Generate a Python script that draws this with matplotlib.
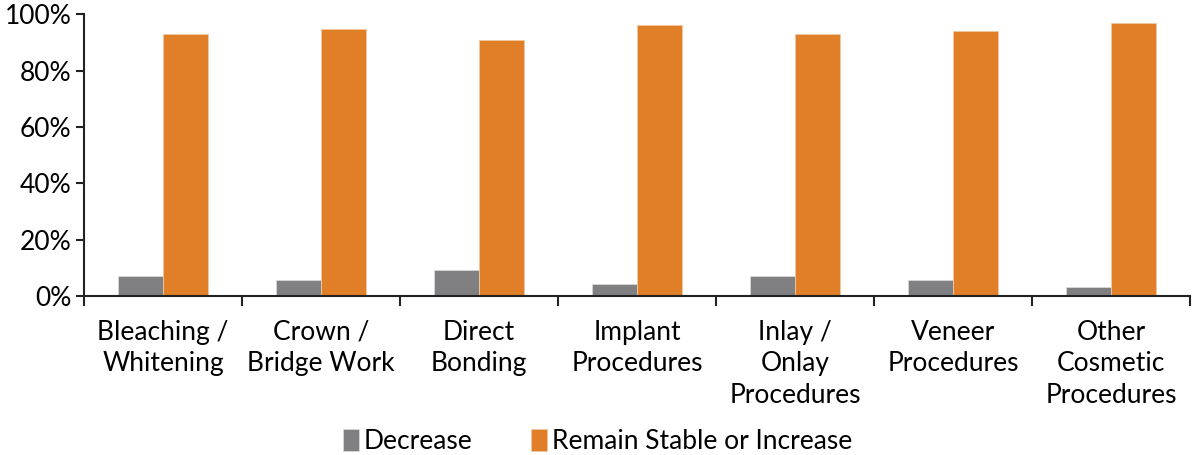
import numpy as np
import matplotlib.pyplot as plt
from matplotlib.ticker import PercentFormatter

plt.rcParams['font.family'] = ['Lato', 'DejaVu Sans']

categories = ["Bleaching /\nWhitening", "Crown /\nBridge Work", "Direct\nBonding",
              "Implant\nProcedures", "Inlay /\nOnlay\nProcedures", "Veneer\nProcedures",
              "Other\nCosmetic\nProcedures"]
decrease = [7.3, 5.9, 9.4, 4.5, 7.3, 5.9, 3.2]
stable_increase = [92.8, 94.8, 90.8, 96.2, 92.8, 94.1, 96.9]

GRAY = "#808083"
ORANGE = "#E07F28"

fig = plt.figure(figsize=(11.95, 4.55), dpi=100)
ax = fig.add_axes([0.0703, 0.349, 0.9257, 0.62])

x = np.arange(len(categories))
w = 0.284
ax.bar(x - w/2, decrease, w, color=GRAY, edgecolor="#d8d8d8", linewidth=0.6, label="Decrease")
ax.bar(x + w/2, stable_increase, w, color=ORANGE, edgecolor="#f0c8a0", linewidth=0.6,
       label="Remain Stable or Increase")

ax.set_xlim(-0.5, len(categories) - 0.5)
ax.set_ylim(0, 100)
ax.set_yticks(np.arange(0, 101, 20))
ax.yaxis.set_major_formatter(PercentFormatter(decimals=0))
ax.set_xticks(x)
ax.set_xticklabels(categories, fontsize=19, linespacing=1.33)
ax.set_xticks(np.arange(-0.5, len(categories), 1), minor=True)
ax.tick_params(axis="x", which="major", length=0, pad=17)
ax.tick_params(axis="x", which="minor", length=7, width=1.5, direction="out", color="#222222")
ax.tick_params(axis="y", length=6, width=1.5, color="#222222", labelsize=19, pad=3)

for s in ["top", "right"]:
    ax.spines[s].set_visible(False)
for s in ["left", "bottom"]:
    ax.spines[s].set_linewidth(1.5)
    ax.spines[s].set_color("#222222")

fig.legend(loc="lower center", bbox_to_anchor=(0.5, -0.05), ncol=2, frameon=False,
           fontsize=19, handlelength=0.6, handleheight=0.9, handletextpad=0.2,
           columnspacing=2.2)

fig.savefig("out.png")
